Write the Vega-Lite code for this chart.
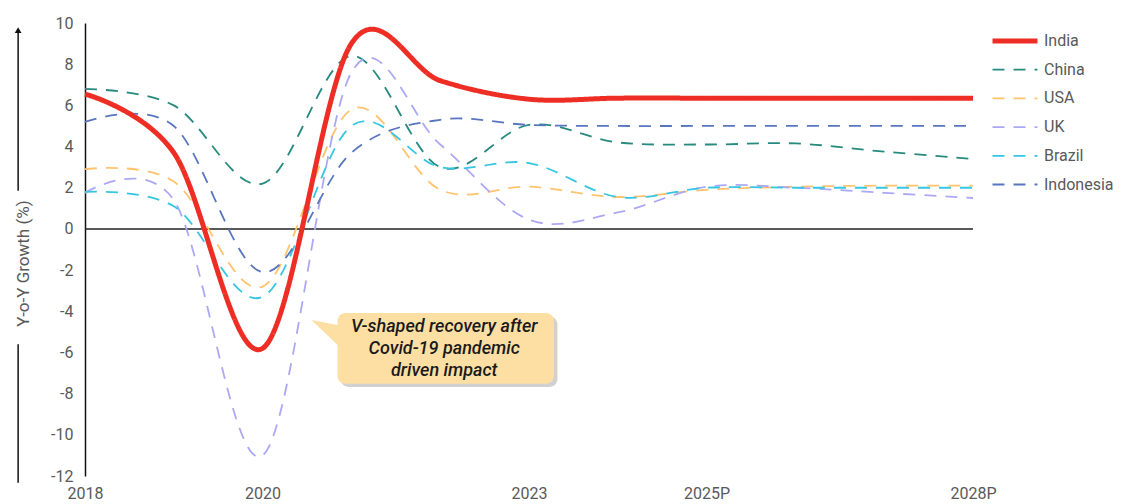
{
  "$schema": "https://vega.github.io/schema/vega-lite/v6.json",
  "width": 888,
  "height": 453,
  "autosize": {"type": "none"},
  "padding": {"left": 85, "top": 23, "right": 152, "bottom": 28},
  "background": "white",
  "config": {
    "view": {"stroke": null},
    "font": "Roboto",
    "axis": {"labelColor": "#595959", "labelFontSize": 16, "labelFont": "Roboto", "grid": false, "ticks": false},
    "legend": {"title": null, "orient": "none", "legendX": 905, "legendY": 8, "symbolType": "stroke", "symbolSize": 2025, "clipHeight": 20, "rowPadding": 8.7, "labelFontSize": 16, "labelColor": "#595959", "labelFont": "Roboto", "labelOffset": 4}
  },
  "datasets": {
    "gdp": [
      {"year": 2018, "country": "India", "value": 6.55},
      {"year": 2019, "country": "India", "value": 3.7},
      {"year": 2020, "country": "India", "value": -5.8},
      {"year": 2021, "country": "India", "value": 9.0},
      {"year": 2022, "country": "India", "value": 7.2},
      {"year": 2023, "country": "India", "value": 6.3},
      {"year": 2024, "country": "India", "value": 6.35},
      {"year": 2025, "country": "India", "value": 6.35},
      {"year": 2026, "country": "India", "value": 6.35},
      {"year": 2027, "country": "India", "value": 6.35},
      {"year": 2028, "country": "India", "value": 6.35},
      {"year": 2018, "country": "China", "value": 6.8},
      {"year": 2019, "country": "China", "value": 6.0},
      {"year": 2020, "country": "China", "value": 2.2},
      {"year": 2021, "country": "China", "value": 8.4},
      {"year": 2022, "country": "China", "value": 3.0},
      {"year": 2023, "country": "China", "value": 5.05},
      {"year": 2024, "country": "China", "value": 4.2},
      {"year": 2025, "country": "China", "value": 4.1},
      {"year": 2026, "country": "China", "value": 4.15},
      {"year": 2027, "country": "China", "value": 3.75},
      {"year": 2028, "country": "China", "value": 3.4},
      {"year": 2018, "country": "USA", "value": 2.9},
      {"year": 2019, "country": "USA", "value": 2.3},
      {"year": 2020, "country": "USA", "value": -2.8},
      {"year": 2021, "country": "USA", "value": 5.8},
      {"year": 2022, "country": "USA", "value": 1.9},
      {"year": 2023, "country": "USA", "value": 2.05},
      {"year": 2024, "country": "USA", "value": 1.55},
      {"year": 2025, "country": "USA", "value": 1.9},
      {"year": 2026, "country": "USA", "value": 2.05},
      {"year": 2027, "country": "USA", "value": 2.1},
      {"year": 2028, "country": "USA", "value": 2.1},
      {"year": 2018, "country": "UK", "value": 1.75},
      {"year": 2019, "country": "UK", "value": 1.4},
      {"year": 2020, "country": "UK", "value": -11.0},
      {"year": 2021, "country": "UK", "value": 7.6},
      {"year": 2022, "country": "UK", "value": 4.1},
      {"year": 2023, "country": "UK", "value": 0.45},
      {"year": 2024, "country": "UK", "value": 0.8},
      {"year": 2025, "country": "UK", "value": 2.05},
      {"year": 2026, "country": "UK", "value": 2.0},
      {"year": 2027, "country": "UK", "value": 1.75},
      {"year": 2028, "country": "UK", "value": 1.5},
      {"year": 2018, "country": "Brazil", "value": 1.8},
      {"year": 2019, "country": "Brazil", "value": 1.1},
      {"year": 2020, "country": "Brazil", "value": -3.3},
      {"year": 2021, "country": "Brazil", "value": 5.0},
      {"year": 2022, "country": "Brazil", "value": 3.0},
      {"year": 2023, "country": "Brazil", "value": 3.2},
      {"year": 2024, "country": "Brazil", "value": 1.55},
      {"year": 2025, "country": "Brazil", "value": 2.0},
      {"year": 2026, "country": "Brazil", "value": 2.0},
      {"year": 2027, "country": "Brazil", "value": 2.0},
      {"year": 2028, "country": "Brazil", "value": 2.0},
      {"year": 2018, "country": "Indonesia", "value": 5.2},
      {"year": 2019, "country": "Indonesia", "value": 5.0},
      {"year": 2020, "country": "Indonesia", "value": -2.1},
      {"year": 2021, "country": "Indonesia", "value": 3.7},
      {"year": 2022, "country": "Indonesia", "value": 5.3},
      {"year": 2023, "country": "Indonesia", "value": 5.05},
      {"year": 2024, "country": "Indonesia", "value": 5.0},
      {"year": 2025, "country": "Indonesia", "value": 5.0},
      {"year": 2026, "country": "Indonesia", "value": 5.0},
      {"year": 2027, "country": "Indonesia", "value": 5.0},
      {"year": 2028, "country": "Indonesia", "value": 5.0}
    ],
    "zero": [{"year": 2018, "year2": 2028, "value": 0}],
    "box": [{"year": 2020.843, "year2": 2023.281, "value": -4.08, "value2": -7.52}],
    "shadow": [{"year": 2020.88, "year2": 2023.32, "value": -4.25, "value2": -7.68}],
    "pointer": [
      {"year": 2020.551, "value": -4.42, "value2": -4.42},
      {"year": 2020.9, "value": -4.71, "value2": -5.87}
    ],
    "note": [{"year": 2022.045, "value": -4.78, "label": "V-shaped recovery after\nCovid-19 pandemic\ndriven impact"}],
    "axisline": [
      {"year": 2017.247, "value": -12.33, "value2": -5.6},
      {"year": 2017.247, "value": 1.85, "value2": 9.6}
    ],
    "arrowhead": [{"year": 2017.247, "value": 9.65}]
  },
  "encoding": {
    "x": {
      "field": "year", "type": "quantitative",
      "scale": {"domain": [2018, 2028], "nice": false, "zero": false},
      "axis": {
        "title": null, "values": [2018, 2020, 2023, 2025, 2028], "format": "d",
        "labelExpr": "datum.value >= 2025 ? datum.value + 'P' : '' + datum.value",
        "domain": false, "labelFlush": false, "labelPadding": 9
      }
    },
    "y": {
      "field": "value", "type": "quantitative",
      "scale": {"domain": [-12, 10], "nice": false, "zero": false},
      "axis": {
        "title": "Y-o-Y Growth (%)", "values": [-12, -10, -8, -6, -4, -2, 0, 2, 4, 6, 8, 10],
        "labelExpr": "'' + datum.value",
        "domain": true, "domainColor": "#111111", "domainWidth": 1.5, "labelPadding": 12,
        "titleX": -62, "titleY": 240, "titleAlign": "center", "titleBaseline": "middle", "titleAngle": 270,
        "titleFontSize": 17, "titleFontWeight": "normal", "titleColor": "#595959", "titleFont": "Roboto"
      }
    }
  },
  "layer": [
    {
      "data": {"name": "shadow"},
      "mark": {"type": "rect", "cornerRadius": 8, "fill": "#9a9a9a", "opacity": 0.45},
      "encoding": {"x2": {"field": "year2"}, "y2": {"field": "value2"}}
    },
    {
      "data": {"name": "zero"},
      "mark": {"type": "rule", "color": "#222222", "strokeWidth": 1.5},
      "encoding": {"x2": {"field": "year2"}}
    },
    {
      "data": {"name": "gdp"},
      "transform": [{"filter": "datum.country !== 'India'"}],
      "mark": {"type": "line", "interpolate": "cardinal"},
      "encoding": {
        "color": {
          "field": "country", "type": "nominal",
          "scale": {"domain": ["India", "China", "USA", "UK", "Brazil", "Indonesia"], "range": ["#EE2E24", "#278A7E", "#FFC36E", "#ABA9F3", "#35C6E3", "#5876C0"]}
        },
        "strokeDash": {
          "field": "country", "type": "nominal",
          "scale": {"domain": ["India", "China", "USA", "UK", "Brazil", "Indonesia"], "range": [[1, 0], [12, 9], [12, 9], [12, 9], [12, 9], [12, 9]]}
        },
        "strokeWidth": {
          "field": "country", "type": "nominal",
          "scale": {"type": "ordinal", "domain": ["India", "China", "USA", "UK", "Brazil", "Indonesia"], "range": [5, 1.8, 1.8, 1.8, 1.8, 1.8]}
        }
      }
    },
    {
      "data": {"name": "gdp"},
      "transform": [{"filter": "datum.country === 'India'"}],
      "mark": {"type": "line", "interpolate": "cardinal"},
      "encoding": {
        "color": {"field": "country", "type": "nominal", "scale": {"domain": ["India", "China", "USA", "UK", "Brazil", "Indonesia"], "range": ["#EE2E24", "#278A7E", "#FFC36E", "#ABA9F3", "#35C6E3", "#5876C0"]}},
        "strokeDash": {"field": "country", "type": "nominal", "scale": {"domain": ["India", "China", "USA", "UK", "Brazil", "Indonesia"], "range": [[1, 0], [12, 9], [12, 9], [12, 9], [12, 9], [12, 9]]}},
        "strokeWidth": {"field": "country", "type": "nominal", "scale": {"type": "ordinal", "domain": ["India", "China", "USA", "UK", "Brazil", "Indonesia"], "range": [5, 1.8, 1.8, 1.8, 1.8, 1.8]}}
      }
    },
    {
      "data": {"name": "pointer"},
      "mark": {"type": "area", "fill": "#FDDFA4", "opacity": 1},
      "encoding": {"y2": {"field": "value2"}}
    },
    {
      "data": {"name": "box"},
      "mark": {"type": "rect", "cornerRadius": 8, "fill": "#FDDFA4"},
      "encoding": {"x2": {"field": "year2"}, "y2": {"field": "value2"}}
    },
    {
      "data": {"name": "note"},
      "mark": {"type": "text", "font": "Roboto", "fontSize": 18, "fontStyle": "italic", "fontWeight": 500, "color": "#1a1a1a", "align": "center", "baseline": "middle", "lineBreak": "\n", "lineHeight": 22},
      "encoding": {"text": {"field": "label", "type": "nominal"}}
    },
    {
      "data": {"name": "axisline"},
      "mark": {"type": "rule", "color": "#111111", "strokeWidth": 1.5},
      "encoding": {"y2": {"field": "value2"}}
    },
    {
      "data": {"name": "arrowhead"},
      "mark": {"type": "point", "shape": "triangle-up", "filled": true, "color": "#111111", "size": 45, "opacity": 1}
    }
  ]
}
